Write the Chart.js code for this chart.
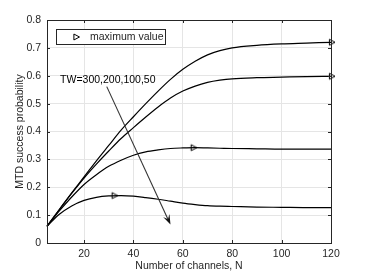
<!DOCTYPE html>
<html>
<head>
<meta charset="utf-8">
<script src="https://cdn.jsdelivr.net/npm/chart.js@4.4.1/dist/chart.umd.min.js"></script>
<style>
  html, body { margin: 0; padding: 0; background: #fff; }
  #wrap { width: 366px; height: 274px; }
</style>
</head>
<body>
<div id="wrap"><canvas id="chart" width="366" height="274"></canvas></div>
<script>
// Число каналов N (общая ось X)
const channels = [5, 10, 15, 20, 25, 30, 35, 40, 45, 50, 55, 60, 65, 70, 75, 80, 90, 100, 110, 120];

// Вероятность успеха MTD для TW = 300, 200, 100, 50
const tw300 = [0.060, 0.120, 0.180, 0.237, 0.295, 0.350, 0.405, 0.453, 0.500, 0.545, 0.587, 0.623, 0.652, 0.675, 0.690, 0.700, 0.709, 0.714, 0.717, 0.720];
const tw200 = [0.060, 0.120, 0.178, 0.233, 0.283, 0.330, 0.375, 0.414, 0.452, 0.488, 0.520, 0.545, 0.563, 0.576, 0.584, 0.589, 0.593, 0.595, 0.597, 0.598];
const tw100 = [0.060, 0.115, 0.165, 0.210, 0.245, 0.275, 0.297, 0.315, 0.327, 0.334, 0.339, 0.341, 0.342, 0.341, 0.340, 0.339, 0.338, 0.337, 0.337, 0.337];
const tw50  = [0.060, 0.103, 0.133, 0.153, 0.164, 0.169, 0.170, 0.168, 0.163, 0.157, 0.150, 0.143, 0.138, 0.134, 0.132, 0.131, 0.129, 0.128, 0.127, 0.127];

// Точки максимума (маркеры)
const maxN = [120, 120, 64, 32];
const maxP = [0.720, 0.598, 0.342, 0.170];

// Подписи осей
const xTicks = [20, 40, 60, 80, 100, 120];
const yTicks = [0, 0.1, 0.2, 0.3, 0.4, 0.5, 0.6, 0.7, 0.8];
const legendLabel = 'maximum value';
const arrowLabel = 'TW=300,200,100,50';

// Положение подписи и стрелки (в координатах данных)
const labelAt = { x: 10.3, y: 0.585 };
const arrowFrom = { x: 29.2, y: 0.561 };
const arrowTo = { x: 55, y: 0.066 };

const axisColor = '#262626';
const gridColor = '#e5e5e5';
const fontSize = 10.5;

Chart.defaults.font.family = '"Liberation Sans", Arial, sans-serif';
Chart.defaults.font.size = fontSize;
Chart.defaults.color = axisColor;

function toPoints(ys) {
    return channels.map((n, i) => ({ x: n, y: ys[i] }));
}

function curve(ys) {
    return {
        data: toPoints(ys),
        borderColor: '#000',
        borderWidth: 1.2,
        pointRadius: 0,
        cubicInterpolationMode: 'monotone',
        fill: false
    };
}

// Засечки внутрь со всех сторон, как в MATLAB
const boxTicks = {
    id: 'boxTicks',
    afterDatasetsDraw(chart) {
        const { ctx, chartArea: a, scales: { x, y } } = chart;
        const len = 3;
        ctx.save();
        ctx.strokeStyle = axisColor;
        ctx.lineWidth = 1;
        ctx.beginPath();
        xTicks.forEach(v => {
            const px = Math.round(x.getPixelForValue(v)) + 0.5;
            ctx.moveTo(px, a.bottom); ctx.lineTo(px, a.bottom - len);
            ctx.moveTo(px, a.top); ctx.lineTo(px, a.top + len);
        });
        yTicks.forEach(v => {
            const py = Math.round(y.getPixelForValue(v)) + 0.5;
            ctx.moveTo(a.left, py); ctx.lineTo(a.left + len, py);
            ctx.moveTo(a.right, py); ctx.lineTo(a.right - len, py);
        });
        ctx.stroke();
        ctx.strokeRect(Math.round(a.left) + 0.5, Math.round(a.top) + 0.5,
            Math.round(a.right - a.left), Math.round(a.bottom - a.top));
        ctx.restore();
    }
};

function drawTriangle(ctx, cx, cy, r) {
    ctx.beginPath();
    ctx.moveTo(cx + r, cy);
    ctx.lineTo(cx - r * 0.6, cy - r * 0.85);
    ctx.lineTo(cx - r * 0.6, cy + r * 0.85);
    ctx.closePath();
    ctx.stroke();
}

// Легенда, подпись и стрелка
const annotations = {
    id: 'annotations',
    afterDatasetsDraw(chart) {
        const { ctx, chartArea: a, scales: { x, y } } = chart;
        ctx.save();

        // легенда
        const lx = a.left + 9, ly = a.top + 9, lw = 109, lh = 15;
        ctx.fillStyle = '#fff';
        ctx.fillRect(lx, ly, lw, lh);
        ctx.strokeStyle = axisColor;
        ctx.lineWidth = 1;
        ctx.strokeRect(Math.round(lx) + 0.5, Math.round(ly) + 0.5, lw, lh);
        ctx.strokeStyle = '#000';
        drawTriangle(ctx, lx + 20, ly + lh / 2 + 0.5, 3.5);
        ctx.fillStyle = axisColor;
        ctx.font = fontSize + 'px "Liberation Sans", Arial, sans-serif';
        ctx.textBaseline = 'middle';
        ctx.textAlign = 'left';
        ctx.fillText(legendLabel, lx + 34, ly + lh / 2 + 1);

        // подпись TW
        ctx.fillStyle = '#000';
        ctx.fillText(arrowLabel, x.getPixelForValue(labelAt.x), y.getPixelForValue(labelAt.y));

        // стрелка
        const x1 = x.getPixelForValue(arrowFrom.x), y1 = y.getPixelForValue(arrowFrom.y);
        const x2 = x.getPixelForValue(arrowTo.x), y2 = y.getPixelForValue(arrowTo.y);
        const ang = Math.atan2(y2 - y1, x2 - x1);
        const hl = 10, hw = 3.5;
        ctx.strokeStyle = '#333';
        ctx.lineWidth = 1.1;
        ctx.beginPath();
        ctx.moveTo(x1, y1);
        ctx.lineTo(x2 - Math.cos(ang) * hl * 0.6, y2 - Math.sin(ang) * hl * 0.6);
        ctx.stroke();
        ctx.fillStyle = '#111';
        ctx.beginPath();
        ctx.moveTo(x2, y2);
        const bx = x2 - Math.cos(ang) * hl, by = y2 - Math.sin(ang) * hl;
        const nx = x2 - Math.cos(ang) * hl * 0.6, ny = y2 - Math.sin(ang) * hl * 0.6;
        ctx.lineTo(bx + Math.sin(ang) * hw, by - Math.cos(ang) * hw);
        ctx.lineTo(nx, ny);
        ctx.lineTo(bx - Math.sin(ang) * hw, by + Math.cos(ang) * hw);
        ctx.closePath();
        ctx.fill();

        ctx.restore();
    }
};

const markerStyle = (() => {
    const c = document.createElement('canvas');
    c.width = 10; c.height = 10;
    const g = c.getContext('2d');
    g.strokeStyle = '#000';
    g.lineWidth = 1;
    drawTriangle(g, 5.5, 5, 3.5);
    return c;
})();

new Chart(document.getElementById('chart'), {
    type: 'line',
    data: {
        datasets: [
            curve(tw300),
            curve(tw200),
            curve(tw100),
            curve(tw50),
            {
                label: legendLabel,
                data: maxN.map((n, i) => ({ x: n, y: maxP[i] })),
                showLine: false,
                pointStyle: markerStyle,
                pointRadius: 5,
                borderColor: '#000',
                backgroundColor: 'transparent'
            }
        ]
    },
    options: {
        responsive: false,
        animation: false,
        clip: false,
        layout: { padding: { top: 20, right: 35, left: 0, bottom: 0 } },
        plugins: {
            legend: { display: false },
            tooltip: { enabled: false }
        },
        scales: {
            x: {
                type: 'linear',
                min: 5,
                max: 120,
                afterFit(s) { s.height = 31; },
                afterBuildTicks(s) { s.ticks = xTicks.map(v => ({ value: v })); },
                grid: { color: gridColor, drawTicks: false },
                border: { display: false },
                ticks: { padding: 5, color: axisColor },
                title: {
                    display: true,
                    text: 'Number of channels, N',
                    color: axisColor,
                    padding: { top: 0, bottom: 2 }
                }
            },
            y: {
                min: 0,
                max: 0.8,
                afterFit(s) { s.width = 47; },
                afterBuildTicks(s) { s.ticks = yTicks.map(v => ({ value: v })); },
                grid: { color: gridColor, drawTicks: false },
                border: { display: false },
                ticks: { padding: 6, color: axisColor },
                title: {
                    display: true,
                    text: 'MTD success probability',
                    color: axisColor,
                    padding: { top: 14, bottom: 0 }
                }
            }
        }
    },
    plugins: [boxTicks, annotations]
});
</script>
</body>
</html>
